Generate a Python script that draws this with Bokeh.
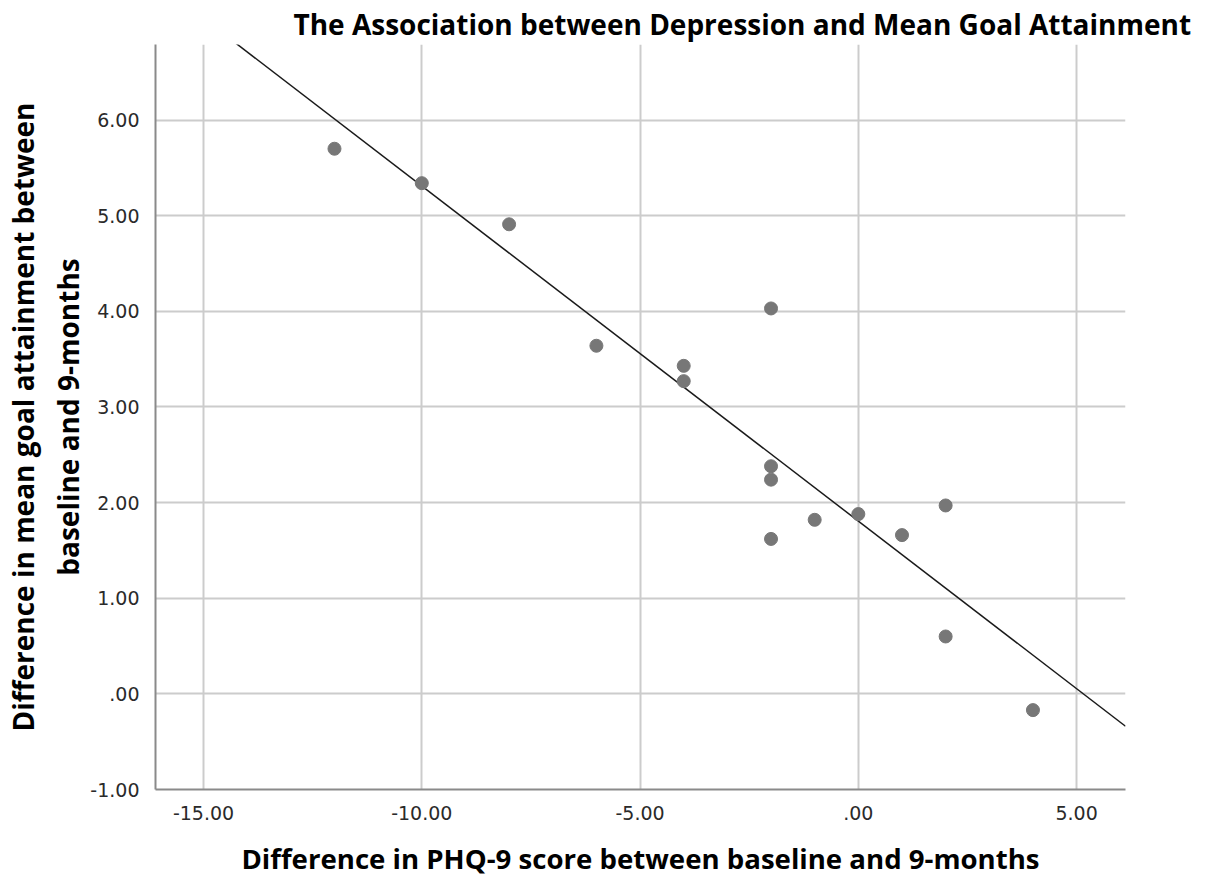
import numpy as np
from bokeh.plotting import figure
from bokeh.models import Range1d, FixedTicker
from bokeh.embed import file_html
from bokeh.resources import INLINE

# Data
phq_diff = [-12, -10, -8, -6, -4, -4, -2, -2, -2, -2, -1, 0, 1, 2, 2, 4]
goal_diff = [5.70, 5.34, 4.91, 3.64, 3.43, 3.27, 4.03, 2.38, 2.24, 1.62, 1.82, 1.88, 1.66, 1.97, 0.60, -0.17]

x_ticks = [-15, -10, -5, 0, 5]
x_tick_labels = ["-15.00", "-10.00", "-5.00", ".00", "5.00"]
y_ticks = [-1, 0, 1, 2, 3, 4, 5, 6]
y_tick_labels = ["-1.00", ".00", "1.00", "2.00", "3.00", "4.00", "5.00", "6.00"]

title_text = "The Association between Depression and Mean Goal Attainment"
x_label = "Difference in PHQ-9 score between baseline and 9-months"
y_label = "Difference in mean goal attainment between\nbaseline and 9-months"

X0, X1 = -16.1, 6.12
Y0, Y1 = -1.0, 6.79

p = figure(width=1205, height=881, output_backend="svg", toolbar_location=None,
           x_range=Range1d(X0, X1), y_range=Range1d(Y0, Y1),
           min_border_left=155, min_border_right=80, min_border_top=43, min_border_bottom=92)
p.outline_line_color = None
p.background_fill_color = "white"
p.border_fill_color = "white"

p.title.text = title_text
p.title.text_font = "Open Sans"
p.title.text_font_style = "bold"
p.title.text_font_size = "28px"
p.title.text_color = "#000000"
p.title.align = "left"
p.title.offset = 138
p.title.standoff = 4

for ax, ticks, labels in ((p.xaxis[0], x_ticks, x_tick_labels), (p.yaxis[0], y_ticks, y_tick_labels)):
    ax.ticker = FixedTicker(ticks=ticks)
    ax.major_label_overrides = {t: l for t, l in zip(ticks, labels)}
    ax.major_tick_line_color = None
    ax.minor_tick_line_color = None
    ax.axis_line_color = "#8a8a8a"
    ax.axis_line_width = 2
    ax.major_label_text_font = "DejaVu Sans"
    ax.major_label_text_font_size = "19px"
    ax.major_label_text_color = "#2a2a2a"
    ax.major_label_standoff = 10
    ax.axis_label_text_font = "Open Sans"
    ax.axis_label_text_font_style = "bold"
    ax.axis_label_text_font_size = "28px"
    ax.axis_label_text_color = "#000000"

p.xaxis.axis_label = x_label
p.xaxis.axis_label_standoff = 16
p.xaxis.axis_label_text_font_size = "27.6px"
p.yaxis.axis_label = y_label
p.yaxis.axis_label_standoff = 0

for g in (p.xgrid[0], p.ygrid[0]):
    g.grid_line_color = "#cccccc"
    g.grid_line_width = 2

# regression fit line computed from the data
slope, intercept = np.polyfit(phq_diff, goal_diff, 1)
lx = [X0, X1]
ly = [intercept + slope * X0, intercept + slope * X1]
p.line(lx, ly, line_color="#1a1a1a", line_width=1.5)

p.scatter(phq_diff, goal_diff, size=13, fill_color="#777777", line_color="#777777")

open("out.html", "w").write(file_html(p, INLINE))
